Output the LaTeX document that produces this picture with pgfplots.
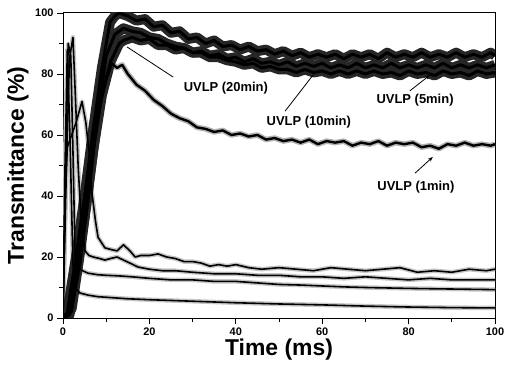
\documentclass[border=0pt]{standalone}
\usepackage{pgfplots}
\pgfplotsset{compat=1.18}
\usepackage{pgfplotstable}
\usepackage{fontspec}
\setmainfont{Liberation Sans}
\usetikzlibrary{arrows.meta}

% upper curves (UVLP samples)
\pgfplotstableread{
x y
0 0
1 2
3 20
5 40
7 62
9 82
10.9 97
12 99
13 100
14 99.5
15 99
17 97.5
19 98
21 95.5
23 96
25 93.5
27 94
29 91.5
31 92
33 90
35 91
37 89
39 89.5
41 88
43 89
45 87.5
47 88
49 86.5
51 87.5
53 86
55 87
57 85.5
59 86.5
61 85.5
63 86.5
65 85
67 86.5
69 85.5
71 86.5
73 85
75 87
77 85.5
79 86.5
81 85.5
83 87
85 85.5
87 86.5
89 85.5
91 87
93 85.5
95 86.5
97 85.5
99 87
100 86
}\uA
\pgfplotstableread{
x y
0 0
1.5 1
3 14
5 33
7 55
9 73
11 84
13 90
14 91
16 92
18 91
20 91.5
22 89.5
24 89.5
26 88
28 88.5
30 87
32 87.5
34 86
36 86.5
38 85
40 85.5
42 84
44 85
46 83.5
48 84
50 83
52 84
54 82.5
56 83.5
58 82.5
60 83.5
62 82
64 83
66 82
68 83.5
70 82
72 83
74 82
76 83.5
78 82
80 83
82 82
84 83
86 82
88 83.5
90 82
92 83
94 82
96 83
98 82
100 83
}\uB
\pgfplotstableread{
x y
0 0
2 3
4 22
6 44
8 66
10 86
12 93
14 95
16 94
18 93.5
20 92
22 91.5
24 90
26 89
28 88.5
30 87
32 87
34 85.5
36 85.5
38 84.5
40 84
42 83
44 83.5
46 82
48 82.5
50 81.5
52 81.5
54 80.5
56 81.5
58 80.5
60 81
62 80
64 81
66 80
68 81
70 80
72 81
74 80
76 80.5
78 79.5
80 81
82 80
84 80.5
86 79.5
88 81
90 80
92 80.5
94 79.5
96 81
98 80
100 80.5
}\uC
\pgfplotstableread{
x y
0 0
2 2
4 18
6 40
8 66
10 78
11.3 83.5
12.5 82
13.7 83
15 80
17 76.5
19 74.5
21 71.5
23 69.5
25 67
27 65.5
29 64.5
31 62.5
33 62
35 61
37 61.5
39 60
41 60.5
43 59.5
45 60
47 58.5
49 59
51 58
53 58.5
55 57.5
57 58.5
59 57
61 58
63 57.5
65 58
67 56.5
69 57.5
71 57
73 58
75 56.5
77 57.5
79 57
81 57.5
83 56
85 56.5
87 55.5
89 57
91 56.5
93 57.5
95 56.5
97 57
99 56.5
100 57
}\uD
% lower curves
\pgfplotstableread{
x y
0 0
0.5 40
1 56
2 60
3 64
4.4 71
5.3 64
6.2 52
6.7 41
7.5 32
8.1 26.5
9.7 23
11 22.5
12.5 22
14 24
15.5 22
16.7 20
18 20.5
20 20.5
22 21
24 20
26 19.5
28 18.5
30 18.5
32 18
34 17
36 17.5
38 17
40 17.5
43 16.5
46 16
50 16.5
54 16
58 15.5
62 16.5
66 16
70 15.5
74 16
78 16.5
82 15
86 15.5
90 15
94 16
98 15.5
100 16
}\lA
\pgfplotstableread{
x y
0 0
0.8 50
1.5 85
2.3 92
2.8 75
3.5 50
4.2 32
5.1 22
6 20.5
7 20
8.5 19.5
9.7 19
11 19.5
12.5 20
14 19
15.5 18
17.4 16.7
20 16
23 15.5
26 15.5
30 15
35 14.5
40 14.5
45 14
50 14
55 13.5
60 13.5
65 13
70 13.5
75 13
80 12.5
85 13
90 12.5
95 12.5
100 12.5
}\lB
\pgfplotstableread{
x y
0 0
0.5 40
1.2 90
1.8 86
2.3 55
2.8 20
3.5 16.5
4.5 15.5
5.8 14.7
8 14.2
10 14
13 13.8
16 13.5
20 13
25 12.5
30 12.5
35 12
40 12
45 11.5
50 11
55 10.8
60 10.5
65 10.2
70 10
80 9.7
90 9.5
100 9.3
}\lC
\pgfplotstableread{
x y
0 0
0.4 45
1.0 88
1.6 60
2.3 18
2.8 10
3.9 8.2
5.8 7.5
8 7
10 6.8
15 6.3
20 6
30 5.5
40 5
50 4.6
60 4.3
70 3.9
80 3.6
90 3.4
100 3.3
}\lD

\begin{document}
\begin{tikzpicture}
\useasboundingbox (-63bp,-51bp) rectangle (444bp,318bp);
\begin{axis}[
  at={(0,0)}, anchor=south west,
  scale only axis, width=432bp, height=305bp,
  xmin=0, xmax=100, ymin=0, ymax=100,
  xtick={0,20,...,100}, ytick={0,20,...,100},
  minor tick num=1,
  xtick pos=bottom, ytick pos=left,
  tick align=outside,
  major tick length=6bp, minor tick length=4bp,
  axis line style={line width=1pt},
  every tick/.style={black, line width=0.9pt},
  ticklabel style={font=\bfseries\fontsize{11}{12}\selectfont},
  /pgf/number format/assume math mode=true,
  xlabel={Time (ms)}, ylabel={Transmittance (\%)},
  label style={font=\bfseries\fontsize{23}{26}\selectfont},
  xlabel style={at={(axis description cs:0.5,-0.105)}, anchor=center},
  ylabel style={at={(axis description cs:-0.104,0.5)}, anchor=center},
  halo/.style={gray!45, line width=4.5pt, line join=round, forget plot},
  bighalo/.style={black!85, line width=10pt, line join=round, forget plot},
  core/.style={black, line width=1.6pt, line join=round},
]
\addplot[halo] table {\lA};
\addplot[halo] table {\lB};
\addplot[halo] table {\lC};
\addplot[halo] table {\lD};
\addplot[halo, gray!60, line width=5.5pt] table {\uD};
\addplot[bighalo] table {\uA};
\addplot[bighalo] table {\uB};
\addplot[bighalo] table {\uC};
\addplot[core] table {\lA};
\addplot[core] table {\lB};
\addplot[core] table {\lC};
\addplot[core] table {\lD};
\addplot[core, line width=2.4pt] table {\uD};
\addplot[core, line width=3pt] table {\uA};
\addplot[core, line width=3pt] table {\uB};
\addplot[core, line width=3pt] table {\uC};

\begin{scope}[every node/.style={font=\bfseries\fontsize{13}{14}\selectfont, fill=none}]
\node at (axis cs:37.7,75.4) {UVLP (20min)};
\draw[line width=0.8pt] (axis cs:25.5,79) -- (axis cs:14.8,88.9);
\node at (axis cs:56.9,64.3) {UVLP (10min)};
\draw[line width=0.8pt] (axis cs:51.4,67.8) -- (axis cs:57.9,79.7);
\node at (axis cs:81.5,71.5) {UVLP (5min)};
\draw[line width=0.8pt, -{Stealth[length=5pt]}] (axis cs:80.3,74.5) -- (axis cs:85,79.7);
\node at (axis cs:81.7,43) {UVLP (1min)};
\draw[line width=0.8pt, -{Stealth[length=5pt]}] (axis cs:81.5,47.5) -- (axis cs:85.6,52.8);
\end{scope}
\end{axis}
\end{tikzpicture}
\end{document}
